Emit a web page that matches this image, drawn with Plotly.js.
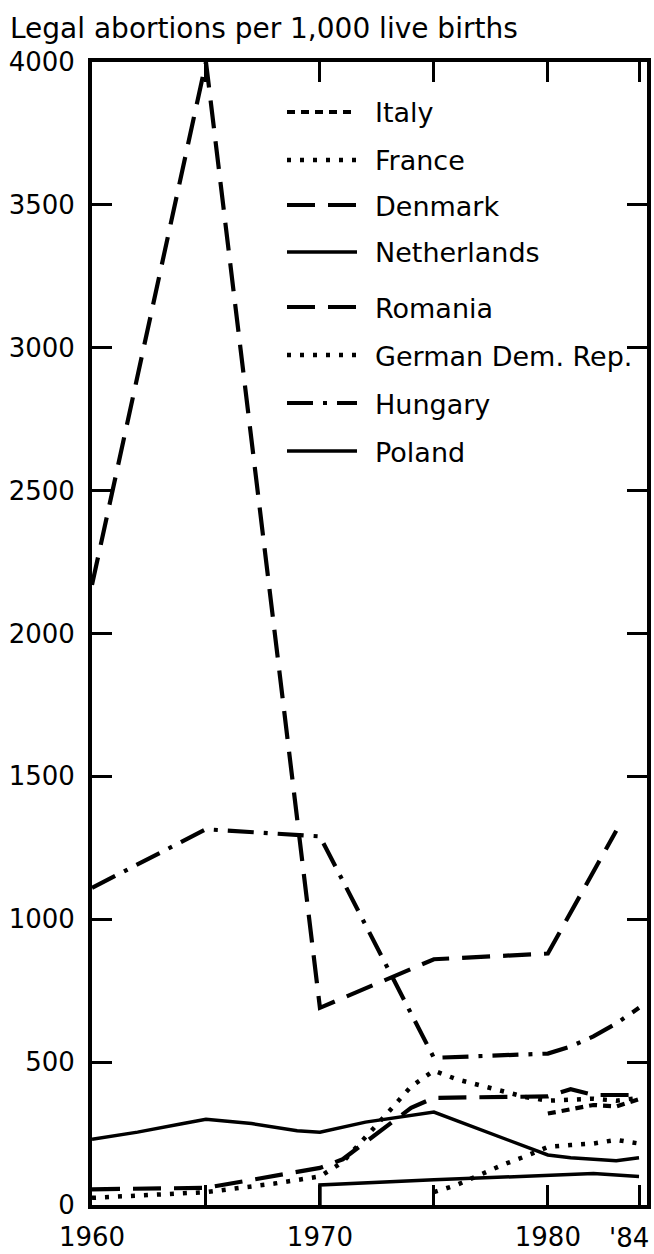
<!DOCTYPE html>
<html>
<head>
<meta charset="utf-8">
<script src="https://cdn.plot.ly/plotly-3.0.1.min.js"></script>
<style>
  body { margin: 0; background: #fff; }
  #chart { width: 654px; height: 1254px; }
</style>
</head>
<body>
<div id="chart"></div>
<script>
// values (legal abortions per 1,000 live births)
var italyYears = [1980, 1981, 1982, 1983, 1984];
var italyRate = [320, 335, 350, 345, 370];

var franceYears = [1975, 1976, 1977, 1978, 1979, 1980, 1981, 1982, 1983, 1984];
var franceRate = [45, 70, 105, 140, 170, 203, 210, 215, 228, 215];

var denmarkYears = [1960, 1965, 1970, 1971, 1972, 1973, 1974, 1975, 1980, 1981, 1982, 1984];
var denmarkRate = [55, 60, 130, 160, 220, 280, 340, 375, 380, 405, 385, 385];

var netherlandsYears = [1970, 1970, 1975, 1980, 1982, 1984];
var netherlandsRate = [0, 70, 88, 105, 110, 100];

var romaniaYears = [1960, 1965, 1970, 1975, 1980, 1983];
var romaniaRate = [2170, 4000, 690, 860, 880, 1310];

var gdrYears = [1960, 1965, 1968, 1970, 1971, 1972, 1973, 1974, 1975, 1976, 1977, 1978, 1979, 1980, 1981, 1982, 1983, 1984];
var gdrRate = [25, 45, 75, 100, 150, 235, 325, 415, 470, 440, 418, 400, 378, 365, 368, 372, 365, 375];

var hungaryYears = [1960, 1965, 1970, 1975, 1980, 1981, 1982, 1983, 1984];
var hungaryRate = [1110, 1315, 1290, 515, 530, 555, 590, 635, 690];

var polandYears = [1960, 1962, 1964, 1965, 1967, 1969, 1970, 1972, 1975, 1980, 1981, 1983, 1984];
var polandRate = [230, 255, 285, 300, 285, 260, 255, 290, 325, 175, 165, 155, 165];

var tickYears = [1960, 1965, 1970, 1975, 1980, 1984];
var tickText = ["1960", "", "1970", "", "1980", ""];
var lastTickText = "'84"; // drawn as a note so it stays inside the page

var font = "DejaVu Sans";

// line styles
var shortDash = "8px,6px";
var dotted = "4px,9px";
var longDash = "28px,13px";
var dashDot = "26px,10px,4px,10px";

var series = [
  {name: "Italy", x: italyYears, y: italyRate, dash: shortDash},
  {name: "France", x: franceYears, y: franceRate, dash: dotted},
  {name: "Denmark", x: denmarkYears, y: denmarkRate, dash: longDash},
  {name: "Netherlands", x: netherlandsYears, y: netherlandsRate, dash: "solid"},
  {name: "Romania", x: romaniaYears, y: romaniaRate, dash: longDash},
  {name: "German Dem. Rep.", x: gdrYears, y: gdrRate, dash: dotted},
  {name: "Hungary", x: hungaryYears, y: hungaryRate, dash: dashDot},
  {name: "Poland", x: polandYears, y: polandRate, dash: "solid"}
];

function lineWidth(dash) {
  if (dash == "solid") return 3.5;
  if (dash == dotted) return 4.5;
  return 4.2;
}

var data = series.map(function (s) {
  return {
    x: s.x, y: s.y, name: s.name, type: "scatter", mode: "lines",
    line: {color: "#000", width: lineWidth(s.dash), dash: s.dash},
    showlegend: false, hoverinfo: "x+y+name"
  };
});

// hand-made legend, so the samples can be as long as in the original
var plotL = 92, plotR = 647, plotT = 62, plotB = 1205;
function px(x) { return (x - plotL) / (plotR - plotL); }
function py(y) { return (plotB - y) / (plotB - plotT); }
var legendRows = [112, 160, 205, 252, 307, 355, 403, 451];

var shapes = [];
var annotations = [];
series.forEach(function (s, i) {
  shapes.push({
    type: "line", xref: "paper", yref: "paper",
    x0: px(287), x1: px(357), y0: py(legendRows[i]), y1: py(legendRows[i]),
    line: {color: "#000", width: lineWidth(s.dash), dash: s.dash}
  });
  annotations.push({
    xref: "paper", yref: "paper", x: px(373), y: py(legendRows[i] + 1),
    xanchor: "left", yanchor: "middle", showarrow: false,
    text: s.name, font: {family: font, size: 27, color: "#000"}
  });
});

annotations.push({
  xref: "paper", yref: "paper", x: px(629), y: py(1238),
  xanchor: "center", yanchor: "middle", showarrow: false,
  text: lastTickText, font: {family: font, size: 26, color: "#000"}
});

var layout = {
  width: 654, height: 1254,
  margin: {l: plotL, r: 654 - plotR, t: plotT, b: 1254 - plotB},
  paper_bgcolor: "#fff", plot_bgcolor: "#fff",
  font: {family: font, size: 26, color: "#000"},
  title: {
    text: "Legal abortions per 1,000 live births",
    xref: "container", yref: "container",
    x: 10 / 654, xanchor: "left", y: 1 - 28 / 1254, yanchor: "middle",
    font: {family: font, size: 28, color: "#000"}
  },
  xaxis: {
    range: [1960, 1984.35], tickvals: tickYears, ticktext: tickText,
    ticks: "inside", ticklen: 20, tickwidth: 3, tickcolor: "#000",
    showline: true, linewidth: 4, linecolor: "#000", mirror: "ticks",
    showgrid: false, zeroline: false, ticklabelstandoff: 6
  },
  yaxis: {
    range: [0, 4000], dtick: 500,
    ticks: "inside", ticklen: 20, tickwidth: 3, tickcolor: "#000",
    showline: true, linewidth: 4, linecolor: "#000", mirror: "ticks",
    showgrid: false, zeroline: false, ticklabelstandoff: 8
  },
  shapes: shapes,
  annotations: annotations
};

Plotly.newPlot("chart", data, layout, {displayModeBar: false, staticPlot: true});
</script>
</body>
</html>
